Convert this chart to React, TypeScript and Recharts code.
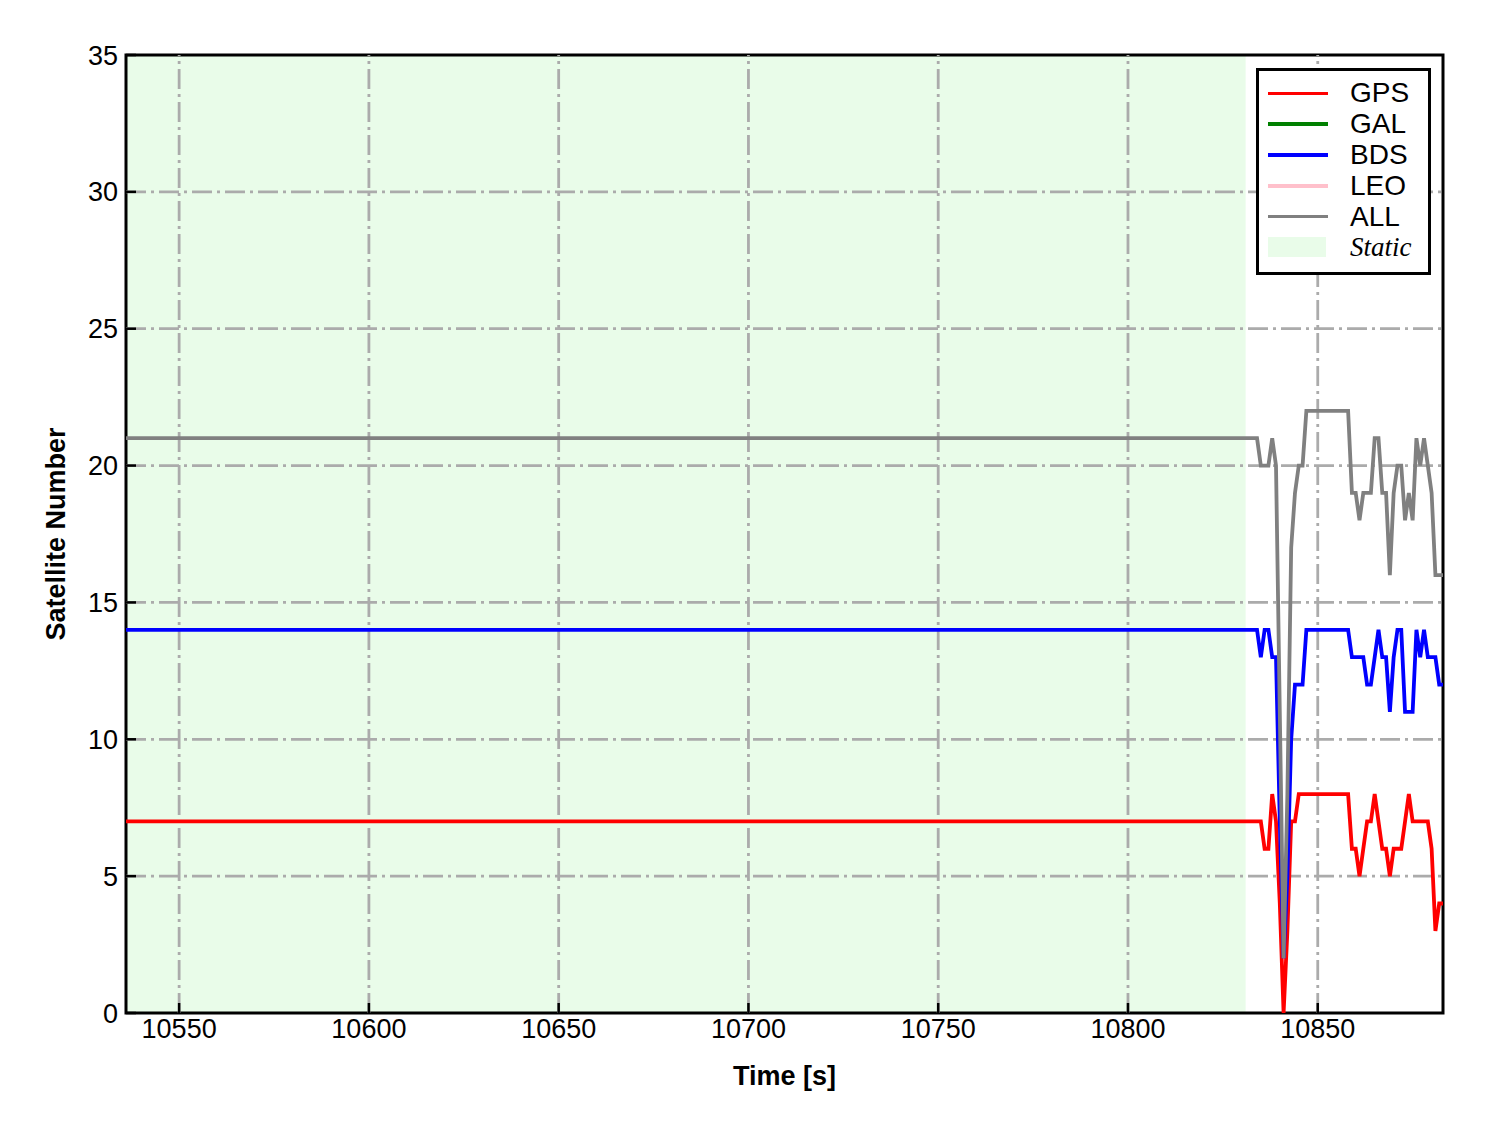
import React from "react";
import {
  LineChart,
  Line,
  XAxis,
  YAxis,
  ReferenceArea,
  ReferenceLine,
  Legend,
} from "recharts";

// time stamps [s]: start of window, then 1 s epochs of the kinematic part
const TIME = [
  10536,
  10834, 10835, 10836, 10837, 10838, 10839, 10840, 10841, 10842, 10843,
  10844, 10845, 10846, 10847, 10848, 10849, 10850, 10851, 10852, 10853,
  10854, 10855, 10856, 10857, 10858, 10859, 10860, 10861, 10862, 10863,
  10864, 10865, 10866, 10867, 10868, 10869, 10870, 10871, 10872, 10873,
  10874, 10875, 10876, 10877, 10878, 10879, 10880, 10881, 10882, 10883,
];

const GPS = [
  7,
  7, 7, 6, 6, 8, 7, 4, 0, 3, 7,
  7, 8, 8, 8, 8, 8, 8, 8, 8, 8,
  8, 8, 8, 8, 8, 6, 6, 5, 6, 7,
  7, 8, 7, 6, 6, 5, 6, 6, 6, 7,
  8, 7, 7, 7, 7, 7, 6, 3, 4, 4,
];

const BDS = [
  14,
  14, 13, 14, 14, 13, 13, 7, 2, 5, 10,
  12, 12, 12, 14, 14, 14, 14, 14, 14, 14,
  14, 14, 14, 14, 14, 13, 13, 13, 13, 12,
  12, 13, 14, 13, 13, 11, 13, 14, 14, 11,
  11, 11, 14, 13, 14, 13, 13, 13, 12, 12,
];

const ALL = [
  21,
  21, 20, 20, 20, 21, 20, 11, 2, 8, 17,
  19, 20, 20, 22, 22, 22, 22, 22, 22, 22,
  22, 22, 22, 22, 22, 19, 19, 18, 19, 19,
  19, 21, 21, 19, 19, 16, 19, 20, 20, 18,
  19, 18, 21, 20, 21, 20, 19, 16, 16, 16,
];

const X_DOMAIN = [10536, 10883];
const Y_DOMAIN = [0, 35];
const X_TICKS = [10550, 10600, 10650, 10700, 10750, 10800, 10850];
const Y_TICKS = [0, 5, 10, 15, 20, 25, 30, 35];
const Y_GRID = [5, 10, 15, 20, 25, 30];

// static period (shaded)
const STATIC_START = 10536;
const STATIC_END = 10831;

const COLORS = {
  GPS: "#ff0000",
  GAL: "#008000",
  BDS: "#0000ff",
  LEO: "#ffc0cb",
  ALL: "#808080",
};

const STATIC_FILL = "#e9fce9";
const GRID_COLOR = "#ababab";
const GRID_DASH = "20 5 3 5";
const FONT = "'Liberation Sans', Arial, sans-serif";

const LEGEND_ITEMS = ["GPS", "GAL", "BDS", "LEO", "ALL"];

const chartData = TIME.map((t, i) => ({
  time: t,
  GPS: GPS[i],
  BDS: BDS[i],
  ALL: ALL[i],
}));

const renderLegend = () => (
  <div
    style={{
      border: "3px solid #000",
      background: "#fff",
      boxSizing: "border-box",
      width: 175,
      height: 207,
      padding: "7px 0 0 9px",
    }}
  >
    {LEGEND_ITEMS.map((name) => (
      <div
        key={name}
        style={{ display: "flex", alignItems: "center", height: 30.8 }}
      >
        <div
          style={{
            width: 60,
            height: 3.5,
            background: COLORS[name as keyof typeof COLORS],
          }}
        />
        <span
          style={{
            marginLeft: 22,
            fontSize: 28,
            lineHeight: 1,
            fontFamily: FONT,
            color: "#000",
          }}
        >
          {name}
        </span>
      </div>
    ))}
    <div style={{ display: "flex", alignItems: "center", height: 30.8 }}>
      <div style={{ width: 58, height: 20, background: STATIC_FILL }} />
      <span
        style={{
          marginLeft: 24,
          fontSize: 27,
          lineHeight: 1,
          fontFamily: "'Liberation Serif', 'Times New Roman', serif",
          fontStyle: "italic",
          color: "#000",
        }}
      >
        Static
      </span>
    </div>
  </div>
);

export default function App() {
  return (
    <div style={{ width: 1488, height: 1133, background: "#fff", fontFamily: FONT }}>
      <style>{`body{margin:0;}`}</style>
      <LineChart
        width={1488}
        height={1133}
        data={chartData}
        margin={{ top: 55, right: 45, left: 0, bottom: 0 }}
      >
        <ReferenceArea
          x1={STATIC_START}
          x2={STATIC_END}
          y1={Y_DOMAIN[0]}
          y2={Y_DOMAIN[1]}
          fill={STATIC_FILL}
          fillOpacity={1}
          stroke="none"
          ifOverflow="hidden"
        />
        {/* dash-dot grid */}
        {X_TICKS.map((v) => (
          <ReferenceLine
            key={`gx${v}`}
            x={v}
            stroke={GRID_COLOR}
            strokeWidth={2.8}
            strokeDasharray={GRID_DASH}
          />
        ))}
        {Y_GRID.map((v) => (
          <ReferenceLine
            key={`gy${v}`}
            y={v}
            stroke={GRID_COLOR}
            strokeWidth={2.8}
            strokeDasharray={GRID_DASH}
          />
        ))}
        <XAxis
          dataKey="time"
          type="number"
          domain={X_DOMAIN}
          ticks={X_TICKS}
          interval={0}
          allowDataOverflow
          height={120}
          axisLine={false}
          tickSize={-10}
          tickMargin={16}
          tickLine={{ stroke: "#000", strokeWidth: 2.5 }}
          tick={{ fontSize: 27, fill: "#000", fontFamily: FONT }}
          label={{
            value: "Time [s]",
            position: "insideBottom",
            offset: 48,
            style: {
              fontSize: 27,
              fontWeight: "bold",
              fill: "#000",
              fontFamily: FONT,
            },
          }}
        />
        <YAxis
          type="number"
          domain={Y_DOMAIN}
          ticks={Y_TICKS}
          interval={0}
          allowDataOverflow
          width={126}
          axisLine={false}
          tickSize={-10}
          tickMargin={18}
          tickLine={{ stroke: "#000", strokeWidth: 2.5 }}
          tick={{ fontSize: 27, fill: "#000", fontFamily: FONT }}
          label={{
            value: "Satellite Number",
            angle: -90,
            position: "insideLeft",
            offset: 55,
            style: {
              fontSize: 27,
              fontWeight: "bold",
              fill: "#000",
              fontFamily: FONT,
              textAnchor: "middle",
            },
          }}
        />
        <Line
          type="linear"
          dataKey="GPS"
          stroke={COLORS.GPS}
          strokeWidth={3.8}
          dot={false}
          isAnimationActive={false}
        />
        <Line
          type="linear"
          dataKey="BDS"
          stroke={COLORS.BDS}
          strokeWidth={3.8}
          dot={false}
          isAnimationActive={false}
        />
        <Line
          type="linear"
          dataKey="ALL"
          stroke={COLORS.ALL}
          strokeWidth={3.8}
          dot={false}
          isAnimationActive={false}
        />
        {/* axes frame */}
        <ReferenceArea
          x1={X_DOMAIN[0]}
          x2={X_DOMAIN[1]}
          y1={Y_DOMAIN[0]}
          y2={Y_DOMAIN[1]}
          fill="none"
          stroke="#000"
          strokeWidth={3}
          ifOverflow="visible"
        />
        <Legend
          content={renderLegend}
          layout="vertical"
          align="center"
          verticalAlign="middle"
          wrapperStyle={{ top: 68, left: 1256, width: 175, height: 207 }}
        />
      </LineChart>
    </div>
  );
}
